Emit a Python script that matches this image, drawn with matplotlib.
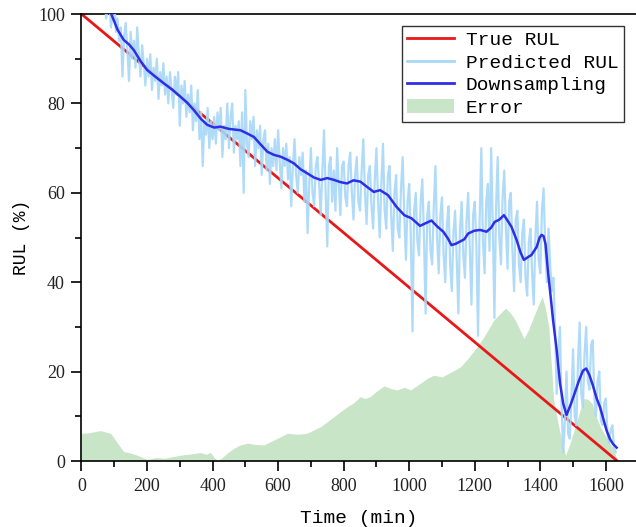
# RUL prediction vs true RUL

import matplotlib
matplotlib.use("Agg")
import matplotlib.pyplot as plt
import numpy as np
from matplotlib.patches import Patch
from matplotlib.ticker import MultipleLocator

# true RUL: straight line from start to failure
true_t = [0, 1635]
true_rul = [100, 0]

# raw prediction, one value every 5 min from t=60
pred_t = np.arange(60, 1631, 5)
pred_rul = [
    104, 102, 106, 99, 101, 103, 97, 100, 104, 96,
    99, 94, 97, 86, 95, 98, 92, 85, 96, 90,
    94, 88, 97, 91, 86, 93, 89, 84, 90, 86,
    91, 83, 88, 85, 90, 81, 87, 84, 89, 82,
    86, 80, 87, 83, 79, 86, 82, 87, 75, 84,
    80, 85, 77, 82, 78, 84, 74, 80, 76, 83,
    72, 78, 66, 76, 73, 79, 70, 76, 72, 77,
    71, 78, 74, 79, 68, 75, 72, 80, 70, 77,
    80, 69, 75, 72, 76, 66, 78, 60, 83, 71,
    68, 76, 72, 77, 66, 74, 70, 75, 64, 72,
    74, 65, 71, 62, 70, 66, 72, 65, 74, 67,
    61, 70, 66, 71, 63, 68, 57, 66, 72, 64,
    60, 68, 64, 69, 58, 65, 51, 62, 70, 60,
    57, 66, 68, 62, 55, 65, 74, 60, 48, 66,
    68, 58, 65, 56, 70, 62, 55, 66, 67, 59,
    57, 66, 69, 60, 54, 64, 68, 58, 56, 65,
    72, 60, 53, 64, 66, 57, 52, 63, 70, 58,
    50, 62, 71, 56, 52, 64, 66, 55, 47, 60,
    64, 52, 50, 61, 68, 55, 45, 58, 62, 50,
    29, 56, 60, 49, 46, 58, 63, 50, 33, 55,
    58, 47, 44, 57, 66, 50, 42, 55, 59, 46,
    40, 53, 57, 44, 38, 51, 56, 45, 33, 52,
    58, 46, 41, 54, 60, 47, 35, 55, 58, 48,
    28, 54, 70, 49, 42, 58, 62, 47, 70, 53,
    32, 57, 68, 50, 44, 59, 65, 52, 43, 58,
    60, 47, 38, 54, 56, 44, 40, 51, 54, 41,
    37, 49, 52, 42, 35, 50, 58, 45, 42, 56,
    61, 48, 40, 52, 44, 38, 41, 30, 15, 24,
    30, 12, 2, 9, 20, 6, 5, 14, 25, 10,
    8, 22, 31, 15, 12, 24, 30, 18, 16, 26,
    27, 14, 10, 18, 20, 9, 8, 13, 14, 6,
    4, 7, 8, 3, 2,
]

# smoothed (downsampled) prediction
down_t = [
    75, 91, 110, 129, 145, 160, 180, 200, 225, 251, 275, 302, 322, 343, 365,
    384, 405, 424, 450, 485, 505, 526, 547, 567, 587, 607, 628, 648, 668, 688,
    710, 730, 750, 770, 790, 810, 830, 851, 870, 892, 911, 935, 962, 985, 1007,
    1033, 1050, 1068, 1085, 1104, 1118, 1129, 1142, 1155, 1168, 1180, 1198,
    1216, 1236, 1250, 1261, 1275, 1289, 1300, 1312, 1328, 1340, 1350, 1362,
    1373, 1389, 1398, 1404, 1410, 1416, 1424, 1432, 1439, 1450, 1460, 1470,
    1480, 1492, 1505, 1518, 1530, 1540, 1550, 1560, 1572, 1582, 1592, 1602,
    1612, 1622, 1633,
]
down_rul = [
    103, 100, 96.5, 94.2, 93.2, 91.9, 89.5, 87.5, 86.0, 84.5, 83.2, 81.5, 80.2,
    78.5, 76.5, 75.2, 74.6, 74.8, 74.3, 74.0, 73.3, 72.5, 70.8, 69.2, 68.5,
    68.1, 67.4, 66.6, 65.3, 64.4, 63.4, 62.9, 63.3, 62.9, 62.4, 62.1, 62.8,
    62.5, 61.4, 60.2, 60.6, 59.5, 56.8, 55.0, 54.3, 52.6, 53.2, 53.8, 52.5,
    51.3, 49.8, 48.3, 48.6, 49.1, 49.6, 50.9, 51.5, 51.7, 51.3, 52.2, 53.5,
    54.0, 55.0, 53.8, 52.4, 49.4, 46.6, 45.0, 45.6, 46.1, 47.9, 50.0, 50.6,
    50.3, 48.5, 42.0, 36.5, 31.5, 24.8, 17.5, 12.8, 10.3, 12.5, 15.2, 18.0,
    20.2, 20.7, 19.2, 17.0, 14.0, 12.1, 9.5, 6.9, 5.0, 3.8, 3.0,
]

# error between prediction and truth
err_t = [
    0, 20, 58, 89, 110, 129, 150, 170, 200, 230, 251, 280, 302, 335, 363, 380,
    394, 405, 414, 425, 445, 464, 485, 506, 530, 556, 590, 628, 660, 688, 710,
    730, 750, 770, 790, 810, 830, 851, 865, 881, 900, 923, 945, 963, 985, 1004,
    1030, 1055, 1075, 1100, 1130, 1157, 1180, 1208, 1230, 1258, 1275, 1294,
    1310, 1324, 1350, 1365, 1380, 1395, 1406, 1416, 1426, 1441, 1456, 1477,
    1490, 1503, 1518, 1533, 1545, 1558, 1570, 1583, 1600, 1625, 1635,
]
err_val = [
    6.2, 6.3, 6.8, 6.2, 4.0, 2.1, 1.8, 1.3, 0.4, 0.8, 0.6, 1.0, 1.3, 1.6,
    1.9, 1.5, 1.9, 0.8, 0.2, 0.5, 1.8, 2.8, 3.6, 4.0, 3.7, 3.6, 4.8, 6.2, 6.0,
    6.2, 7.0, 7.7, 8.8, 9.9, 11.0, 12.1, 13.0, 14.4, 14.0, 14.4, 15.6, 16.8,
    16.2, 15.9, 16.5, 15.9, 17.2, 18.5, 19.2, 18.8, 20.0, 21.1, 23.0, 25.6,
    28.0, 31.5, 32.8, 34.2, 33.0, 31.5, 27.4, 29.5, 32.3, 35.0, 36.8, 34.0,
    30.0, 13.6, 7.7, 1.3, 3.8, 6.9, 10.5, 14.0, 13.8, 12.9, 10.0, 7.7, 5.5,
    2.5, 0.0,
]

fig = plt.figure(figsize=(6.36, 5.27), dpi=100)
ax = fig.add_axes([0.1281, 0.1252, 0.8719, 0.8482])

ax.fill_between(err_t, 0, err_val, color="#c9e5c8", lw=0, zorder=1)
ax.plot(true_t, true_rul, color="#e81818", lw=2, zorder=2)
ax.plot(pred_t, pred_rul, color="#a8d8f8", lw=1.6, alpha=0.9, zorder=3)
ax.plot(down_t, down_rul, color="#2e2ee6", lw=1.8, zorder=4)

ax.set_xlim(0, 1692)
ax.set_ylim(0, 100)
ax.xaxis.set_major_locator(MultipleLocator(200))
ax.xaxis.set_minor_locator(MultipleLocator(100))
ax.yaxis.set_major_locator(MultipleLocator(20))
ax.yaxis.set_minor_locator(MultipleLocator(10))
ax.tick_params(which="major", direction="out", length=7, width=1.2,
               labelsize=13, pad=5)
ax.tick_params(which="minor", direction="out", length=4, width=1.2)
for lab in ax.get_xticklabels() + ax.get_yticklabels():
    lab.set_fontfamily("Liberation Serif")
    lab.set_color("#222222")

ax.spines["right"].set_visible(False)
for s in ["left", "bottom", "top"]:
    ax.spines[s].set_linewidth(1.2)

ax.set_xlabel("Time (min)", fontsize=14, family="Liberation Mono", labelpad=11)
ax.set_ylabel("RUL (%)", fontsize=13, family="Liberation Mono", labelpad=6)

handles = [
    plt.Line2D([], [], color="#e81818", lw=2),
    plt.Line2D([], [], color="#a8d8f8", lw=2),
    plt.Line2D([], [], color="#2e2ee6", lw=2),
    Patch(facecolor="#c9e5c8", edgecolor="none"),
]
labels = ["True RUL", "Predicted RUL", "Downsampling", "Error"]
leg = ax.legend(handles, labels, loc="upper right", fancybox=False,
                prop={"family": "Liberation Mono", "size": 14},
                handlelength=2.4, handletextpad=0.6, labelspacing=0.25,
                borderpad=0.3, borderaxespad=0.6, framealpha=1)
leg.get_frame().set_edgecolor("#333333")
leg.get_frame().set_linewidth(1.0)

fig.savefig("out.png", dpi=100)
